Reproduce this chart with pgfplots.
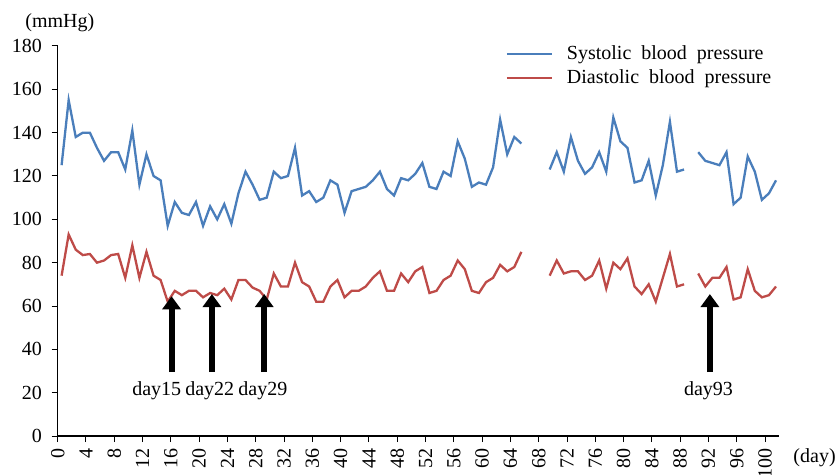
\documentclass[border=0pt]{standalone}
\usepackage{fontspec}
\setmainfont{Liberation Serif}
\usepackage{pgfplots}
\pgfplotsset{compat=1.18}
\usepackage{pgfplotstable}
\usetikzlibrary{arrows.meta}
\definecolor{sysblue}{RGB}{74,126,187}
\definecolor{diared}{RGB}{190,75,72}

\pgfplotstableread{
d sys dia
0 125 74
1 155 93
2 138 86
3 140 83.5
4 140 84
5 133 80
6 127 81
7 131 83.5
8 131 84
9 123 73
10 141 88
11 116 73
12 130 85
13 120 74
14 118 72
15 97 62
16 108 67
17 103 65
18 102 67
19 108 67
20 97 64
21 106 66
22 100 65
23 107 68
24 98 63
25 112 72
26 122 72
27 116 68.5
28 109 67
29 110 63
30 122 75
31 119 69
32 120 69
33 133 80
34 111 71
35 113 69
36 108 62
37 110 62
38 118 69
39 116 72
40 103 64
41 113 67
42 114 67
43 115 69
44 118 73
45 122 76
46 114 67
47 111 67
48 119 75
49 118 71
50 121 76
51 126 78
52 115 66
53 114 67
54 122 72
55 120 74
56 136 81
57 128 77
58 115 67
59 117 66
60 116 71
61 124 73
62 146 79
63 130 76
64 138 78
65 135 85
66 nan nan
67 nan nan
68 nan nan
69 123 74
70 131 81
71 122 75
72 138 76
73 127 76
74 121 72
75 124 74
76 131 81
77 122 68
78 147 80
79 136 77
80 133 82
81 117 69
82 118 65.5
83 127 70
84 111 62
85 125 73
86 145 84
87 122 69
88 123 70
89 nan nan
90 131 75
91 127 69
92 126 73
93 125 73
94 131 78
95 107 63
96 110 64
97 129 77
98 122 67
99 109 64
100 112 65
101 118 69
}\bpdata

\begin{document}
\fontsize{20}{24}\selectfont
\begin{tikzpicture}[font=\fontsize{20}{24}\selectfont]
\begin{axis}[
  at={(0,0)}, anchor=south west,
  scale only axis, width=721.5pt, height=390pt,
  xmin=0, xmax=102, ymin=0, ymax=180,
  axis lines=left,
  axis line style={-, line width=1.2pt, black},
  tick align=outside,
  major tick length=6pt,
  tick style={line width=1pt, black},
  xtick={0,4,...,100}, ytick={0,20,...,180},
  xticklabel style={rotate=90, anchor=east},
  yticklabel style={xshift=-3pt},
  /pgf/number format/assume math mode=true,
  clip=false,
  unbounded coords=jump,
  legend cell align=left,
  legend style={draw=none, fill=none, at={(axis cs:63.3,180.8)}, anchor=north west,
    inner sep=0pt, row sep=5.5pt, column sep=13pt, nodes={inner sep=1pt}},
  legend image code/.code={\draw[#1] (0pt,0pt) -- (45pt,0pt);},
]
\addplot[sysblue, line width=2.3pt] table[x expr=\thisrow{d}+0.55, y=sys] {\bpdata};
\addlegendentry{Systolic\ \ blood\ \ pressure}
\addplot[diared, line width=2.3pt] table[x expr=\thisrow{d}+0.55, y=dia] {\bpdata};
\addlegendentry{Diastolic\ \ blood\ \ pressure}

\draw[line width=6pt, -{Triangle[width=18pt,length=13pt]}] (axis cs:16.1,29.5) -- (axis cs:16.1,64.5);
\draw[line width=6pt, -{Triangle[width=18pt,length=13pt]}] (axis cs:21.8,29.5) -- (axis cs:21.8,65.5);
\draw[line width=6pt, -{Triangle[width=18pt,length=13pt]}] (axis cs:29.2,29.5) -- (axis cs:29.2,65.5);
\draw[line width=6pt, -{Triangle[width=18pt,length=13pt]}] (axis cs:92.2,29.5) -- (axis cs:92.2,65.5);
\node[anchor=base] at (axis cs:14.0,18.5) {day15};
\node[anchor=base] at (axis cs:21.5,18.5) {day22};
\node[anchor=base] at (axis cs:29.0,18.5) {day29};
\node[anchor=base] at (axis cs:92.0,18.5) {day93};
\node at (axis cs:0.3,190.6) {(mmHg)};
\node at (axis cs:107,-10) {(day)};
\end{axis}
\pgfresetboundingbox
\path (-57.7pt,-38pt) rectangle (779.3pt,436pt);
\end{tikzpicture}
\end{document}
